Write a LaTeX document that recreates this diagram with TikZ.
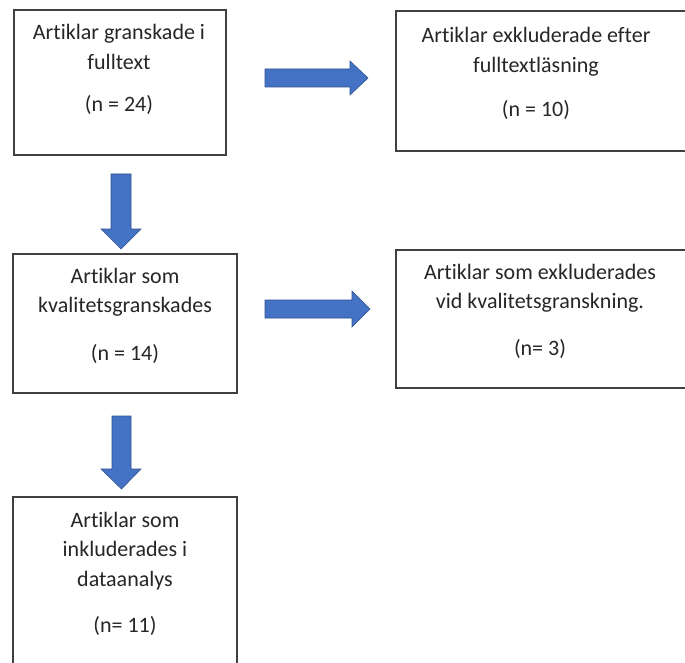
\documentclass[tikz,border=0pt]{standalone}
\usepackage{fontspec}
\setmainfont{Carlito}[Ligatures={NoCommon,NoRare,NoContextual}]
\definecolor{boxline}{HTML}{404040}
\definecolor{txt}{HTML}{262626}
\definecolor{arrfill}{HTML}{4472C4}
\definecolor{arrline}{HTML}{2F528F}
\begin{document}
\begin{tikzpicture}[x=1pt,y=-1pt,
  boxframe/.style={draw=boxline,line width=1.4pt},
  boxtext/.style={anchor=base,align=center,text=txt,inner sep=0pt,
    font=\fontsize{22}{29.5}\selectfont},
  blockarrow/.style={fill=arrfill,draw=arrline,line width=0.6pt,line join=miter}]
\useasboundingbox (0,0) rectangle (685,663);
\clip (0,0) rectangle (685,663);
\fill[white] (0,0) rectangle (685,663);
% boxes
\draw[boxframe] (14,10) rectangle (226,155);
\draw[boxframe] (396,11) rectangle (692,151);
\draw[boxframe] (13,254) rectangle (237,393);
\draw[boxframe] (396,250) rectangle (692,388);
\draw[boxframe] (13,497) rectangle (237,672);
% texts (anchored at the baseline of the last line)
\node[boxtext] (t1) at (119,112) {Artiklar granskade i\\fulltext\\[13pt](n = 24)};
\node[boxtext] (t2) at (536,117) {Artiklar exkluderade efter\\fulltextläsning\\[15pt](n = 10)};
\node[boxtext] (t3) at (125,360) {Artiklar som\\kvalitetsgranskades\\[18pt](n = 14)};
\node[boxtext] (t4) at (540,355) {Artiklar som exkluderades\\vid kvalitetsgranskning.\\[17pt](n= 3)};
\node[boxtext] (t5) at (125,632.5) {Artiklar som\\inkluderades i\\dataanalys\\[17pt](n= 11)};
% block arrows
\draw[blockarrow] (265,69) -- (350,69) -- (350,61) -- (368,78) -- (350,95) -- (350,87) -- (265,87) -- cycle;
\draw[blockarrow] (265,300) -- (352,300) -- (352,291) -- (370,309) -- (352,327) -- (352,318) -- (265,318) -- cycle;
\draw[blockarrow] (111,174) -- (131,174) -- (131,229) -- (141,229) -- (121,249) -- (101,229) -- (111,229) -- cycle;
\draw[blockarrow] (112,416) -- (131,416) -- (131,469) -- (141,469) -- (121.5,489) -- (101,469) -- (112,469) -- cycle;
\end{tikzpicture}
\end{document}
